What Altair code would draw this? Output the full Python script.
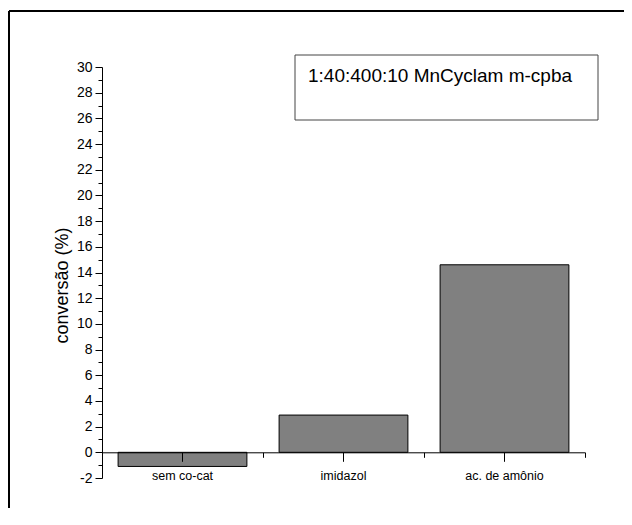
import altair as alt
import pandas as pd

categories = ["sem co-cat", "imidazol", "ac. de amônio"]
conversion = [-1.1, 2.9, 14.6]
legend_label = "1:40:400:10 MnCyclam m-cpba"
y_title = "conversão (%)"
y_ticks = list(range(-2, 31))

df = pd.DataFrame({"cat": categories, "val": conversion})
one = pd.DataFrame({"k": [0]})

FONT = "Liberation Sans"
y_scale = alt.Scale(domain=[-2, 30], nice=False, zero=False)


def x_scale():
    return alt.Scale(domain=categories, paddingInner=0, paddingOuter=0)


bars = alt.Chart(df).mark_bar(
    fill="#808080", stroke="#000000", strokeWidth=1, width={"band": 0.8}
).encode(
    x=alt.X("cat:N", scale=x_scale(), sort=categories,
            axis=alt.Axis(orient="bottom", offset=-25.7, title=None, labelAngle=0,
                          ticks=True, tickBand="center", zindex=1,
                          domainColor="#000", domainWidth=1, tickColor="#000",
                          tickWidth=1, tickSize=9, labelFontSize=12.5, labelColor="#000",
                          labelFont=FONT, labelPadding=8)),
    y=alt.Y("val:Q", scale=y_scale,
            axis=alt.Axis(values=y_ticks,
                          labelExpr="datum.value % 2 === 0 ? '' + datum.value : ''",
                          tickSize={"condition": {"test": "datum.value % 2 === 0", "value": 7}, "value": 4},
                          domainColor="#000", domainWidth=1, tickColor="#000",
                          labelFontSize=14, labelColor="#000", labelFont=FONT,
                          labelPadding=3, grid=False,
                          title=y_title, titleFont=FONT, titleFontSize=18,
                          titleFontWeight="normal", titleColor="#000",
                          titleX=-31, titleY=218, titleBaseline="bottom")),
)

band_ticks = alt.Chart(df).mark_point(opacity=0).encode(
    x=alt.X("cat:N", scale=x_scale(), sort=categories,
            axis=alt.Axis(orient="bottom", offset=-25.7, title=None, labels=False,
                          domain=False, tickBand="extent", tickSize=5,
                          tickColor="#000", zindex=1)),
    y=alt.value(0),
)

box = alt.Chart(one).mark_rect(fill="white", stroke="#444444", strokeWidth=1).encode(
    x=alt.value(193), x2=alt.value(496), y=alt.value(-12), y2=alt.value(53)
)
box_text = alt.Chart(one).mark_text(
    align="left", baseline="alphabetic", fontSize=19, font=FONT, color="#000"
).encode(x=alt.value(206), y=alt.value(15), text=alt.value(legend_label))

frame_top = alt.Chart(one).mark_rule(color="#000", strokeWidth=2).encode(
    x=alt.value(-93), x2=alt.value(700), y=alt.value(-56)
)
frame_left = alt.Chart(one).mark_rule(color="#000", strokeWidth=2).encode(
    x=alt.value(-93), y=alt.value(-56), y2=alt.value(700)
)

chart = alt.layer(frame_top, frame_left, bars, band_ticks, box, box_text).resolve_scale(
    x="independent"
).resolve_axis(
    x="independent"
).properties(
    width=483, height=411,
    autosize=alt.AutoSizeParams(type="none"),
    padding={"left": 94, "top": 59, "right": 39, "bottom": 30},
).configure_view(stroke=None)

chart.save("out.html", embed_options={"renderer": "svg", "actions": False})
